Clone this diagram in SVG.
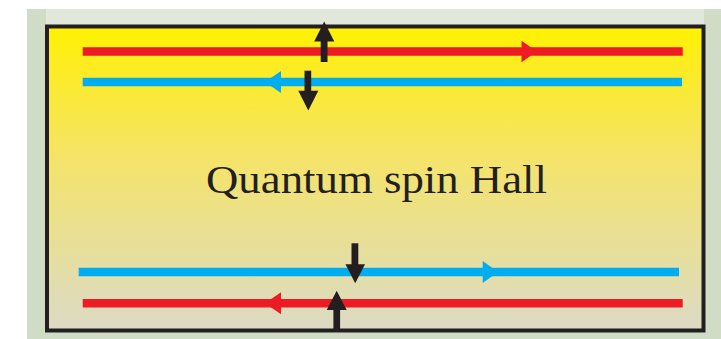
<svg xmlns="http://www.w3.org/2000/svg" width="721" height="339" viewBox="0 0 721 339">
  <defs>
    <linearGradient id="fillGrad" x1="0" y1="0" x2="0" y2="1">
      <stop offset="0" stop-color="#fff200"/>
      <stop offset="0.12" stop-color="#fdec20"/>
      <stop offset="0.45" stop-color="#f4e36c"/>
      <stop offset="0.75" stop-color="#e6df9e"/>
      <stop offset="1" stop-color="#dcdac6"/>
    </linearGradient>
    <style>
      .red { stroke: #ed1c24; stroke-width: 8.5; fill: none; }
      .blue { stroke: #00aeef; stroke-width: 8.5; fill: none; }
      .redh { fill: #ed1c24; }
      .blueh { fill: #00aeef; }
      .spin { fill: #231f20; }
      .label { font-family: "Liberation Serif", "DejaVu Serif", serif; font-size: 39px; fill: #231f20; }
    </style>
  </defs>

  <!-- background panel -->
  <rect x="27" y="9" width="694" height="330" fill="#d0dcc6"/>
  <rect x="46" y="9" width="658" height="17" fill="#e1e7da"/>

  <!-- main box -->
  <g id="box">
    <rect x="47" y="26.5" width="656.5" height="304" fill="url(#fillGrad)" stroke="#231f20" stroke-width="4"/>
  </g>

  <g id="connectors">
    <!-- top edge: red rightward -->
    <g id="top-red">
      <line class="red" x1="82.7" y1="51.5" x2="682.7" y2="51.5"/>
      <polygon class="redh" points="521.5,40.7 537,51.5 521.5,62.3"/>
    </g>
    <!-- top edge: blue leftward -->
    <g id="top-blue">
      <line class="blue" x1="82.7" y1="82" x2="682" y2="82"/>
      <polygon class="blueh" points="281,71 265,82 281,93"/>
    </g>
    <!-- bottom edge: blue rightward -->
    <g id="bottom-blue">
      <line class="blue" x1="78.7" y1="272" x2="679" y2="272"/>
      <polygon class="blueh" points="482.7,261 498,272 482.7,283"/>
    </g>
    <!-- bottom edge: red leftward -->
    <g id="bottom-red">
      <line class="red" x1="82.7" y1="303.3" x2="682.7" y2="303.3"/>
      <polygon class="redh" points="281,292.3 265,303.3 281,314.3"/>
    </g>
  </g>

  <!-- spin arrows -->
  <g id="spin-top-up">
    <rect class="spin" x="320.7" y="40" width="6.8" height="22"/>
    <polygon class="spin" points="314.2,41.5 324.2,21.5 334.3,41.5"/>
  </g>
  <g id="spin-top-down">
    <rect class="spin" x="304.5" y="70.7" width="6.7" height="21"/>
    <polygon class="spin" points="298.3,90.8 308.3,110.5 318.3,90.8"/>
  </g>
  <g id="spin-bottom-down">
    <rect class="spin" x="351.5" y="243.3" width="6.8" height="22"/>
    <polygon class="spin" points="345.5,264.3 355.2,283.3 365,264.3"/>
  </g>
  <g id="spin-bottom-up">
    <rect class="spin" x="333.4" y="308" width="6.7" height="22"/>
    <polygon class="spin" points="326.7,310 336.7,290.7 346.7,310"/>
  </g>

  <g id="label">
    <text class="label" x="206" y="192.5" textLength="341" lengthAdjust="spacingAndGlyphs">Quantum spin Hall</text>
  </g>
</svg>
